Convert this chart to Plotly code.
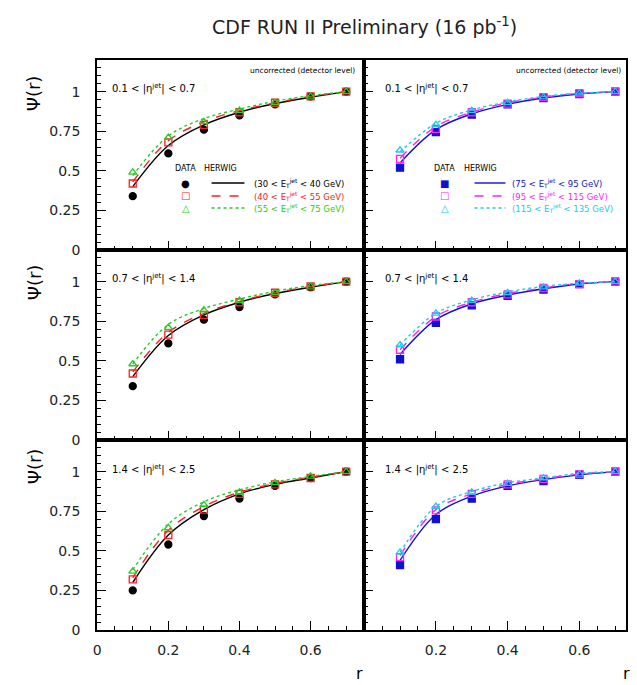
import plotly.graph_objects as go

# ---------------- data ----------------
r_values = [0.1, 0.2, 0.3, 0.4, 0.5, 0.6, 0.7]

eta_labels = ["0.1 < |η<sup>jet</sup>| < 0.7",
              "0.7 < |η<sup>jet</sup>| < 1.4",
              "1.4 < |η<sup>jet</sup>| < 2.5"]

et_labels_left = ["(30 < E<sub>T</sub><sup>jet</sup> < 40 GeV)",
                  "(40 < E<sub>T</sub><sup>jet</sup> < 55 GeV)",
                  "(55 < E<sub>T</sub><sup>jet</sup> < 75 GeV)"]
et_labels_right = ["(75 < E<sub>T</sub><sup>jet</sup> < 95 GeV)",
                   "(95 < E<sub>T</sub><sup>jet</sup> < 115 GeV)",
                   "(115 < E<sub>T</sub><sup>jet</sup> < 135 GeV)"]

x_tick_vals = [0, 0.2, 0.4, 0.6]
x_tick_text = ["0", "0.2", "0.4", "0.6"]
y_tick_vals = [0, 0.25, 0.5, 0.75, 1]
y_tick_text = ["0", "0.25", "0.5", "0.75", "1"]

# left column (low ET): data and HERWIG, per eta row
data_black_eta1 = [0.34, 0.61, 0.76, 0.85, 0.92, 0.97, 1.0]
data_red_eta1 = [0.42, 0.68, 0.79, 0.87, 0.93, 0.97, 1.0]
data_green_eta1 = [0.49, 0.71, 0.81, 0.88, 0.93, 0.97, 1.0]
herwig_black_eta1 = [0.40, 0.66, 0.79, 0.87, 0.925, 0.965, 1.0]
herwig_red_eta1 = [0.43, 0.69, 0.81, 0.88, 0.93, 0.97, 1.0]
herwig_green_eta1 = [0.47, 0.72, 0.83, 0.89, 0.94, 0.975, 1.0]

data_black_eta2 = [0.34, 0.61, 0.76, 0.84, 0.92, 0.965, 1.0]
data_red_eta2 = [0.42, 0.665, 0.79, 0.87, 0.93, 0.97, 1.0]
data_green_eta2 = [0.48, 0.71, 0.82, 0.88, 0.93, 0.97, 1.0]
herwig_black_eta2 = [0.40, 0.66, 0.79, 0.87, 0.925, 0.965, 1.0]
herwig_red_eta2 = [0.43, 0.68, 0.80, 0.875, 0.93, 0.97, 1.0]
herwig_green_eta2 = [0.48, 0.73, 0.83, 0.89, 0.94, 0.975, 1.0]

data_black_eta3 = [0.25, 0.54, 0.72, 0.83, 0.91, 0.96, 1.0]
data_red_eta3 = [0.32, 0.60, 0.76, 0.86, 0.92, 0.96, 1.0]
data_green_eta3 = [0.37, 0.645, 0.79, 0.87, 0.93, 0.97, 1.0]
herwig_black_eta3 = [0.30, 0.60, 0.76, 0.86, 0.92, 0.96, 1.0]
herwig_red_eta3 = [0.33, 0.63, 0.78, 0.87, 0.925, 0.965, 1.0]
herwig_green_eta3 = [0.38, 0.67, 0.81, 0.885, 0.935, 0.97, 1.0]

# right column (high ET)
data_blue_eta1 = [0.52, 0.745, 0.855, 0.92, 0.96, 0.985, 1.0]
data_magenta_eta1 = [0.575, 0.765, 0.87, 0.925, 0.965, 0.99, 1.0]
data_cyan_eta1 = [0.63, 0.79, 0.88, 0.93, 0.965, 0.99, 1.0]
herwig_blue_eta1 = [0.55, 0.76, 0.86, 0.92, 0.96, 0.985, 1.0]
herwig_magenta_eta1 = [0.58, 0.78, 0.87, 0.93, 0.965, 0.99, 1.0]
herwig_cyan_eta1 = [0.62, 0.80, 0.885, 0.935, 0.97, 0.99, 1.0]

data_blue_eta2 = [0.51, 0.74, 0.85, 0.91, 0.95, 0.985, 1.0]
data_magenta_eta2 = [0.57, 0.78, 0.87, 0.92, 0.96, 0.985, 1.0]
data_cyan_eta2 = [0.60, 0.80, 0.88, 0.93, 0.965, 0.99, 1.0]
herwig_blue_eta2 = [0.54, 0.76, 0.86, 0.915, 0.955, 0.985, 1.0]
herwig_magenta_eta2 = [0.57, 0.78, 0.87, 0.925, 0.96, 0.99, 1.0]
herwig_cyan_eta2 = [0.60, 0.80, 0.885, 0.935, 0.97, 0.99, 1.0]

data_blue_eta3 = [0.41, 0.70, 0.83, 0.91, 0.94, 0.98, 1.0]
data_magenta_eta3 = [0.46, 0.755, 0.86, 0.92, 0.955, 0.985, 1.0]
data_cyan_eta3 = [0.49, 0.78, 0.87, 0.925, 0.96, 0.985, 1.0]
herwig_blue_eta3 = [0.44, 0.73, 0.845, 0.91, 0.95, 0.98, 1.0]
herwig_magenta_eta3 = [0.47, 0.76, 0.86, 0.92, 0.955, 0.985, 1.0]
herwig_cyan_eta3 = [0.49, 0.78, 0.875, 0.93, 0.96, 0.99, 1.0]

# ---------------- styles ----------------
LEFT_STYLES = [
    dict(color="#000000", symbol="circle", dash="solid", glyph="●"),
    dict(color="#ff2020", symbol="square-open", dash="dash", glyph="□"),
    dict(color="#20d020", symbol="triangle-up-open", dash="dot", glyph="△"),
]
RIGHT_STYLES = [
    dict(color="#1010d0", symbol="square", dash="solid", glyph="■"),
    dict(color="#ff20ff", symbol="square-open", dash="dash", glyph="□"),
    dict(color="#20c8f0", symbol="triangle-up-open", dash="dot", glyph="△"),
]

panels = {
    (1, 1): ([data_black_eta1, data_red_eta1, data_green_eta1],
             [herwig_black_eta1, herwig_red_eta1, herwig_green_eta1], LEFT_STYLES),
    (2, 1): ([data_black_eta2, data_red_eta2, data_green_eta2],
             [herwig_black_eta2, herwig_red_eta2, herwig_green_eta2], LEFT_STYLES),
    (3, 1): ([data_black_eta3, data_red_eta3, data_green_eta3],
             [herwig_black_eta3, herwig_red_eta3, herwig_green_eta3], LEFT_STYLES),
    (1, 2): ([data_blue_eta1, data_magenta_eta1, data_cyan_eta1],
             [herwig_blue_eta1, herwig_magenta_eta1, herwig_cyan_eta1], RIGHT_STYLES),
    (2, 2): ([data_blue_eta2, data_magenta_eta2, data_cyan_eta2],
             [herwig_blue_eta2, herwig_magenta_eta2, herwig_cyan_eta2], RIGHT_STYLES),
    (3, 2): ([data_blue_eta3, data_magenta_eta3, data_cyan_eta3],
             [herwig_blue_eta3, herwig_magenta_eta3, herwig_cyan_eta3], RIGHT_STYLES),
}

# ---------------- geometry (pixels) ----------------
W, H = 637, 685
PL, PR, PT, PB = 97, 628, 60, 630     # plot area
XDIV = 365                            # column divider


def px(x):
    return (x - PL) / (PR - PL)


def py(y):
    return (PB - y) / (PB - PT)


col_dom = {1: [0, px(XDIV)], 2: [px(XDIV), 1]}
row_dom = {1: [2 / 3, 1], 2: [1 / 3, 2 / 3], 3: [0, 1 / 3]}
col_range = {1: [-0.0005, 0.75], 2: [-0.0005, 0.73]}
Y_RANGE = [0, 1.2]

fig = go.Figure()
layout_axes = {}
FONT = "DejaVu Sans"

idx = 0
for (row, col), (datas, herwigs, styles) in panels.items():
    idx += 1
    xa = "x" if idx == 1 else f"x{idx}"
    ya = "y" if idx == 1 else f"y{idx}"
    for d, h, s in zip(datas, herwigs, styles):
        fig.add_trace(go.Scatter(
            x=r_values, y=h, mode="lines", xaxis=xa, yaxis=ya,
            line=dict(color=s["color"], width=1.4, dash=s["dash"], shape="spline"),
            showlegend=False, hoverinfo="skip"))
        fig.add_trace(go.Scatter(
            x=r_values, y=d, mode="markers", xaxis=xa, yaxis=ya,
            marker=dict(color=s["color"], symbol=s["symbol"], size=7,
                        line=dict(color=s["color"], width=1.3)),
            showlegend=False))
    common = dict(showline=True, mirror=True, linecolor="black", linewidth=1.5,
                  ticks="inside", ticklen=9, tickwidth=1, tickcolor="black",
                  showgrid=False, zeroline=False,
                  tickfont=dict(family=FONT, size=14, color="#222"))
    # right column: its "0" label is drawn by a text trace below
    tv = x_tick_vals if col == 1 else x_tick_vals[1:]
    tt = x_tick_text if col == 1 else x_tick_text[1:]
    layout_axes["xaxis" if idx == 1 else f"xaxis{idx}"] = dict(
        common, domain=col_dom[col], range=col_range[col], anchor=ya,
        tickvals=tv, ticktext=tt,
        showticklabels=(row == 3), ticklabelstandoff=6,
        minor=dict(ticks="inside", ticklen=4, dtick=0.05, tick0=0,
                   tickcolor="black", showgrid=False))
    layout_axes["yaxis" if idx == 1 else f"yaxis{idx}"] = dict(
        common, domain=row_dom[row], range=Y_RANGE, anchor=xa,
        tickvals=y_tick_vals, ticktext=y_tick_text,
        showticklabels=(col == 1), ticklabelstandoff=12,
        minor=dict(ticks="inside", ticklen=4, dtick=0.05, tick0=0,
                   tickcolor="black", showgrid=False))

# right column "0" tick label as an unclipped text trace just below the axis
label_offset = -0.12  # below the axis, in axis units (about 19 px)
fig.add_trace(go.Scatter(
    x=[x_tick_vals[0]], y=[Y_RANGE[0] + label_offset], mode="text",
    text=[x_tick_text[0]], textposition="middle center",
    textfont=dict(family=FONT, size=14, color="#222"),
    xaxis="x6", yaxis="y6", cliponaxis=False,
    showlegend=False, hoverinfo="skip"))

annotations = []


def text(x, y, s, size, color="black", xanchor="center", yanchor="middle", angle=0):
    annotations.append(dict(x=px(x), y=py(y), xref="paper", yref="paper", text=s,
                            showarrow=False, xanchor=xanchor, yanchor=yanchor,
                            textangle=angle,
                            font=dict(family=FONT, size=size, color=color)))


# title
text(366, 26, "CDF RUN II Preliminary (16 pb<sup>-1</sup>)", 19, color="#222")

# y-axis titles and x-axis titles
for yc in (93, 282, 466):
    text(34, yc, "Ψ(r)", 18, angle=-90)
text(360, 673, "r", 16)
text(628, 673, "r", 16)

# uncorrected labels
text(358, 70, "uncorrected (detector level)", 7.5, xanchor="right")
text(625, 70, "uncorrected (detector level)", 7.5, xanchor="right")

# eta labels
eta_y = [88, 278, 469]
for i, yy in enumerate(eta_y):
    text(110, yy, eta_labels[i], 10, xanchor="left")
    text(384, yy, eta_labels[i], 10, xanchor="left")

# legends
shapes = []
legend_rows = [183, 196, 208]
for (mx, lx0, lx1, tx, hx, styles, labels) in (
        (186, 212, 245, 253, 221, LEFT_STYLES, et_labels_left),
        (446, 476, 507, 512, 482, RIGHT_STYLES, et_labels_right)):
    text(mx, 168, "DATA", 8)
    text(hx, 168, "HERWIG", 8)
    for yy, s, lab in zip(legend_rows, styles, labels):
        text(mx, yy, s["glyph"], 10, color=s["color"])
        shapes.append(dict(type="line", xref="paper", yref="paper",
                           x0=px(lx0), x1=px(lx1), y0=py(yy), y1=py(yy),
                           line=dict(color=s["color"], width=1.4, dash=s["dash"])))
        text(tx, yy, lab, 8.5, color=s["color"], xanchor="left")

fig.update_layout(
    width=W, height=H,
    margin=dict(l=PL, r=W - PR, t=PT, b=H - PB),
    paper_bgcolor="white", plot_bgcolor="white",
    annotations=annotations, shapes=shapes,
    showlegend=False,
    **layout_axes,
)

fig.write_html("out.html")
